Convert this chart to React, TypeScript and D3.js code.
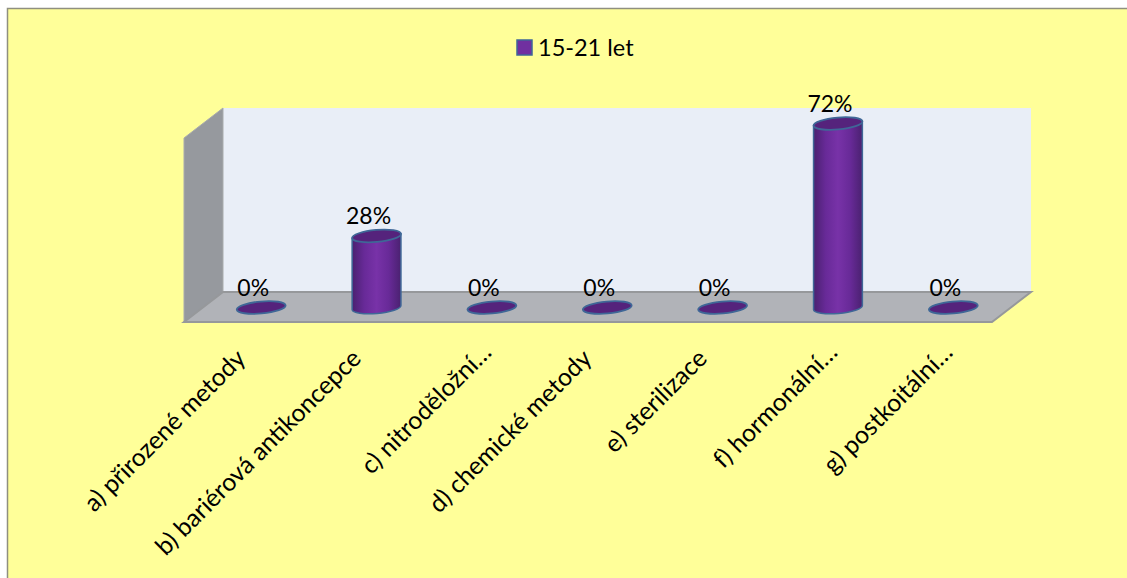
import React from "react";
import * as d3 from "d3";

const categories = ["a) přirozené metody", "b) bariérová antikoncepce", "c) nitroděložní…", "d) chemické metody", "e) sterilizace", "f) hormonální…", "g) postkoitální…"];
const values = [0, 28, 0, 0, 0, 72, 0];
const seriesName = "15-21 let";

const W = 1127, H = 578;
const x = d3.scaleBand<string>().domain(categories).range([203.5, 1011]).paddingInner(0).paddingOuter(0);
const y = d3.scaleLinear().domain([0, 72]).range([307.5, 123.5]);
const barW = 49;
const rx = barW / 2;
const ry = 6;
const tilt = -5;
const font = "Lato, Carlito, 'Open Sans', sans-serif";

const poly = (pts: [number, number][]) => (d3.line()(pts) as string) + "Z";

export default function App() {
  const bw = x.bandwidth();
  return (
    <svg width={W} height={H} style={{ position: "absolute", left: 0, top: 0, display: "block" }}>
      <defs>
        <linearGradient id="cyl" x1="0" x2="1" y1="0" y2="0">
          <stop offset="0" stopColor="#4a2170" />
          <stop offset="0.25" stopColor="#682a98" />
          <stop offset="0.5" stopColor="#7832a8" />
          <stop offset="0.75" stopColor="#682a98" />
          <stop offset="1" stopColor="#4a2170" />
        </linearGradient>
      </defs>
      <rect x={7.5} y={8.5} width={W} height={H} fill="#ffff99" stroke="#8f8f80" strokeWidth={1.5} />
      <path d={poly([[223, 108], [1031, 108], [1031, 292], [223, 292]])} fill="#e9eef7" />
      <path d={poly([[184, 138], [223, 108], [223, 292], [184, 322]])} fill="#96999e" stroke="#a9abad" strokeWidth={1} />
      <path d={poly([[184, 322], [223, 292], [1031, 292], [992, 322]])} fill="#b1b3b8" stroke="#96989b" strokeWidth={2} />
      {categories.map((c, i) => {
        const cx = (x(c) as number) + bw / 2;
        const top = y(values[i]);
        const base = y(0);
        const dy = rx * Math.sin((-tilt * Math.PI) / 180);
        const dx = rx * Math.cos((-tilt * Math.PI) / 180);
        const body = `M${cx - dx},${top + dy}L${cx - dx},${base + dy}A${rx},${ry} ${tilt} 0 0 ${cx + dx},${base - dy}L${cx + dx},${top - dy}Z`;
        const truncated = c.endsWith("…");
        return (
          <g key={c}>
            {values[i] > 0 && <path d={body} fill="url(#cyl)" stroke="#3f6797" strokeWidth={1.5} />}
            <ellipse cx={cx} cy={top} rx={rx} ry={ry} transform={`rotate(${tilt} ${cx} ${top})`} fill="#55237c" stroke="#3f6797" strokeWidth={1.8} />
            <text x={cx - 8} y={top - 12} textAnchor="middle" fontFamily={font} fontSize={23} fill="#000">{values[i]}%</text>
            <text transform={`translate(${cx + (truncated ? -4 : -19)},${truncated ? 349 : 355}) rotate(-45)`} x={0} y={7} textAnchor="end" fontFamily={font} fontSize={24.8} fill="#000">{c}</text>
          </g>
        );
      })}
      <rect x={517} y={40} width={15} height={15} fill="#7030a0" stroke="#3f6797" strokeWidth={1.5} />
      <text x={538} y={56} fontFamily={font} fontSize={23.5} fill="#000">{seriesName}</text>
    </svg>
  );
}
